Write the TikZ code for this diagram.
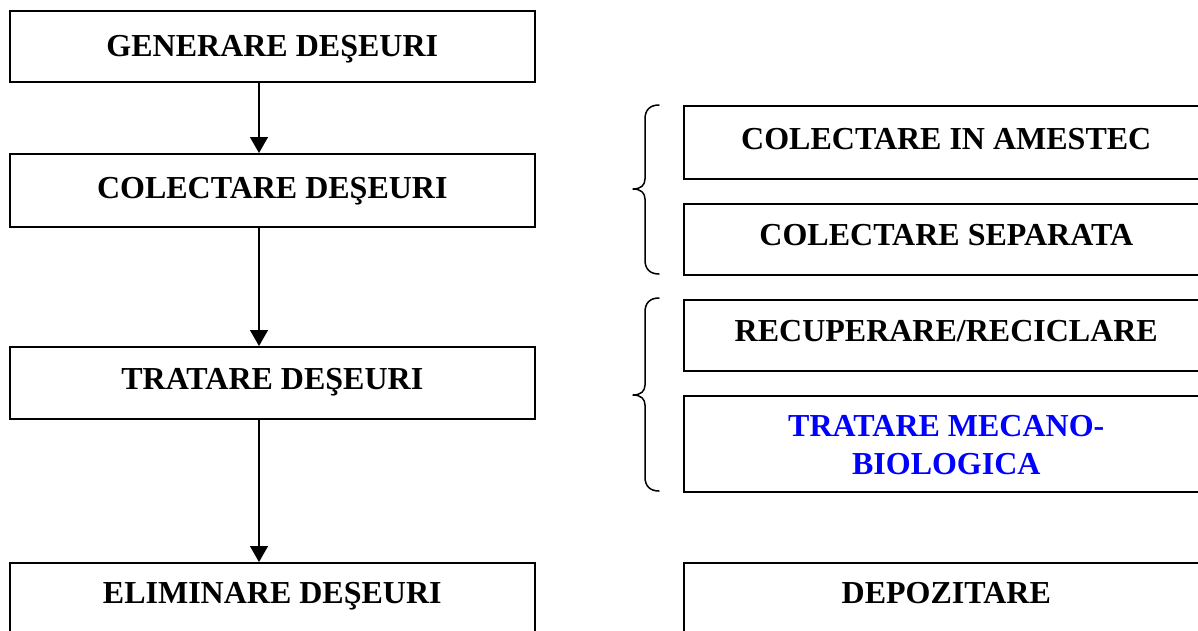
\documentclass[tikz,border=0pt]{standalone}
\usepackage{fontspec}
\setmainfont{Liberation Serif}
\usetikzlibrary{arrows.meta}

\begin{document}
\begin{tikzpicture}[x=1pt,y=-1pt,
  box/.style={draw=black, line width=1.6pt, rectangle, anchor=north west,
    minimum width=525pt, inner xsep=4pt, inner ysep=0pt,
    font=\fontsize{32}{38}\selectfont\bfseries, text depth=0pt},
  flow/.style={line width=1.4pt, -{Triangle[width=18pt,length=16pt]}},
  curly/.style={line width=1.5pt, line cap=round, line join=round},
  mbt/.style={text=blue}
]
\useasboundingbox (0,0) rectangle (1198,630);
\clip (0,0) rectangle (1198,630);

% main sequence, left column
\node[box, minimum height=71pt, text height=21pt] (gen) at (9,10) {GENERARE DEŞEURI};
\node[box, minimum height=73pt, text height=17pt] (col) at (9,153) {COLECTARE DEŞEURI};
\node[box, minimum height=72pt, text height=13pt] (tra) at (9,346) {TRATARE DEŞEURI};
\node[box, minimum height=80pt, text height=2pt]  (eli) at (9,562) {ELIMINARE DEŞEURI};

% details, right column
\node[box, minimum height=73pt, text height=15pt] (ame) at (683,105) {COLECTARE IN AMESTEC};
\node[box, minimum height=71pt, text height=12pt] (sep) at (683,203) {COLECTARE SEPARATA};
\node[box, minimum height=71pt, text height=13pt] (rec) at (683,299) {RECUPERARE/RECICLARE};
\node[box, minimum height=96pt, text height=62pt, align=center, mbt] (mbio) at (683,395) {TRATARE MECANO-\\BIOLOGICA};
\node[box, minimum height=80pt, text height=2pt]  (dep) at (683,562) {DEPOZITARE};

% arrows between the stages
\coordinate (axis) at (259,0);
\draw[flow] (gen.south -| axis) -- (col.north -| axis);
\draw[flow] (col.south -| axis) -- (tra.north -| axis);
\draw[flow] (tra.south -| axis) -- (eli.north -| axis);

% curly braces grouping the collection and treatment options
\draw[curly] (659,105) .. controls (650,105) and (645,110) .. (645,119)
  -- (645,179) .. controls (645,185) and (641,189) .. (633,189)
  .. controls (641,189) and (645,193) .. (645,199)
  -- (645,260) .. controls (645,269) and (650,274) .. (659,274);
\draw[curly] (659,298) .. controls (650,298) and (645,303) .. (645,312)
  -- (645,385) .. controls (645,391) and (641,395) .. (633,395)
  .. controls (641,395) and (645,399) .. (645,405)
  -- (645,477) .. controls (645,486) and (650,491) .. (659,491);
\end{tikzpicture}
\end{document}
